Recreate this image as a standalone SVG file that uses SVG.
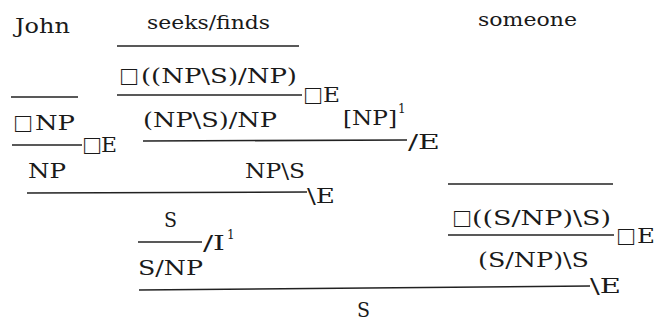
<svg xmlns="http://www.w3.org/2000/svg" width="660" height="321" viewBox="0 0 660 321">
<style>
text{font-family:"DejaVu Serif","Liberation Serif",serif;font-size:21px;fill:#1a1a1a}
.w{font-size:19px}
.box{font-family:"Liberation Serif",serif;font-size:27px}
.sup{font-size:12px}
line{stroke:#222;stroke-width:1.6}
</style>
<rect width="660" height="321" fill="#fff"/>
<g id="words">
<text x="15" y="33" textLength="55" lengthAdjust="spacingAndGlyphs">John</text>
<text class="w" x="147" y="29" textLength="123" lengthAdjust="spacingAndGlyphs">seeks/finds</text>
<text class="w" x="478" y="26" textLength="99" lengthAdjust="spacingAndGlyphs">someone</text>
</g>
<g id="rules">
<line x1="117" y1="46" x2="299" y2="46"/>
<line x1="117" y1="95" x2="302" y2="95"/>
<line x1="11" y1="97" x2="78" y2="97"/>
<line x1="12" y1="145" x2="82" y2="145"/>
<line x1="143" y1="141" x2="407" y2="140"/>
<line x1="27" y1="193" x2="307" y2="192"/>
<line x1="138" y1="242" x2="202" y2="242"/>
<line x1="139" y1="290" x2="590" y2="286"/>
<line x1="448" y1="184" x2="613" y2="184"/>
<line x1="448" y1="235" x2="614" y2="235"/>
</g>
<g id="formulas">
<text class="box" x="121" y="85">□</text>
<text x="141" y="83" textLength="156" lengthAdjust="spacingAndGlyphs">((NP\S)/NP)</text>
<text class="box" x="305" y="104">□</text>
<text x="323" y="102" textLength="17" lengthAdjust="spacingAndGlyphs">E</text>
<text class="box" x="15" y="132">□</text>
<text x="35" y="130" textLength="40" lengthAdjust="spacingAndGlyphs">NP</text>
<text class="box" x="84" y="154">□</text>
<text x="101" y="152" textLength="16" lengthAdjust="spacingAndGlyphs">E</text>
<text x="143" y="127" textLength="134" lengthAdjust="spacingAndGlyphs">(NP\S)/NP</text>
<text x="343" y="125" textLength="54" lengthAdjust="spacingAndGlyphs">[NP]</text>
<text class="sup" x="398" y="113">1</text>
<text x="408" y="149" textLength="32" lengthAdjust="spacingAndGlyphs">/E</text>
<text x="28" y="178" textLength="38" lengthAdjust="spacingAndGlyphs">NP</text>
<text x="245" y="178" textLength="60" lengthAdjust="spacingAndGlyphs">NP\S</text>
<text x="307" y="203" textLength="28" lengthAdjust="spacingAndGlyphs">\E</text>
<text x="164" y="227" textLength="13" lengthAdjust="spacingAndGlyphs">S</text>
<text x="203" y="250" textLength="22" lengthAdjust="spacingAndGlyphs">/I</text>
<text class="sup" x="227" y="239">1</text>
<text x="138" y="275" textLength="65" lengthAdjust="spacingAndGlyphs">S/NP</text>
<text x="590" y="293" textLength="31" lengthAdjust="spacingAndGlyphs">\E</text>
<text x="357" y="317" textLength="13" lengthAdjust="spacingAndGlyphs">S</text>
<text class="box" x="454" y="227">□</text>
<text x="472" y="225" textLength="139" lengthAdjust="spacingAndGlyphs">((S/NP)\S)</text>
<text class="box" x="618" y="245">□</text>
<text x="637" y="243" textLength="18" lengthAdjust="spacingAndGlyphs">E</text>
<text x="478" y="267" textLength="111" lengthAdjust="spacingAndGlyphs">(S/NP)\S</text>
</g>
</svg>
